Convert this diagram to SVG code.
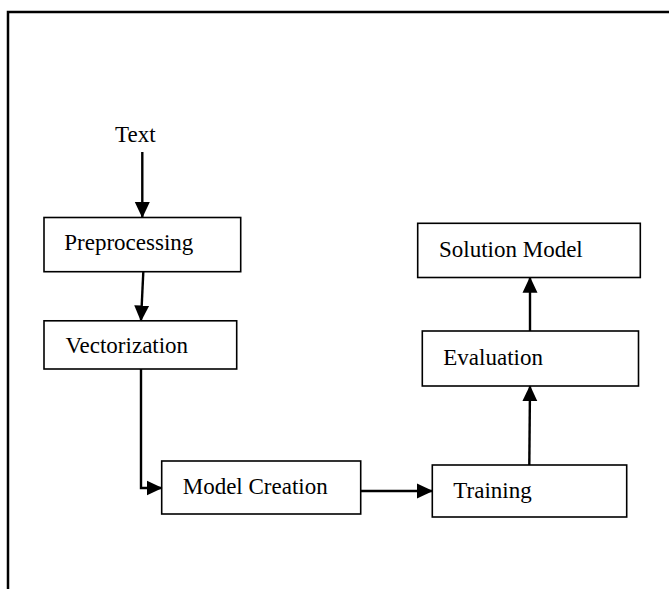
<svg xmlns="http://www.w3.org/2000/svg" width="669" height="589" viewBox="0 0 669 589">
<style>
.box{fill:#fff;stroke:#000;stroke-width:1.6}
.lbl{font-family:"Liberation Serif","Times New Roman",serif;font-size:23px;fill:#000}
.con{fill:none;stroke:#000;stroke-width:2.4}
</style>
<defs>
<marker id="ah" markerUnits="userSpaceOnUse" markerWidth="16" markerHeight="16" viewBox="0 0 16 16" refX="15" refY="8" orient="auto">
<path d="M0,0.5 L16,8 L0,15.5 Z" fill="#000"/>
</marker>
</defs>
<rect x="0" y="0" width="669" height="589" fill="#fff"/>
<path d="M8,589 V12 H669" fill="none" stroke="#000" stroke-width="2.5"/>
<g id="text-node"><text class="lbl" x="115" y="142">Text</text></g>
<g id="preprocessing"><rect class="box" x="44" y="217.5" width="196.7" height="54.2"/><text class="lbl" x="64.3" y="250">Preprocessing</text></g>
<g id="vectorization"><rect class="box" x="44" y="320.8" width="192.7" height="48.2"/><text class="lbl" x="65.5" y="353.3">Vectorization</text></g>
<g id="model-creation"><rect class="box" x="161.7" y="461" width="199" height="53"/><text class="lbl" x="182.7" y="494">Model Creation</text></g>
<g id="training"><rect class="box" x="432.3" y="465" width="194.4" height="52"/><text class="lbl" x="453.3" y="498">Training</text></g>
<g id="evaluation"><rect class="box" x="422.3" y="331" width="216.2" height="55"/><text class="lbl" x="443.3" y="365">Evaluation</text></g>
<g id="solution-model"><rect class="box" x="417.7" y="223.3" width="222.6" height="54.2"/><text class="lbl" x="439" y="256.7">Solution Model</text></g>
<g id="connectors">
<path class="con" d="M142.3,152 L142.3,217" marker-end="url(#ah)"/>
<path class="con" d="M143.3,272 L141,320.5" marker-end="url(#ah)"/>
<path class="con" d="M141,369 V488 H161.5" marker-end="url(#ah)"/>
<path class="con" d="M361,491 H432" marker-end="url(#ah)"/>
<path class="con" d="M529.3,465 L530,386.2" marker-end="url(#ah)"/>
<path class="con" d="M530,331 L530,277.8" marker-end="url(#ah)"/>
</g>
</svg>
